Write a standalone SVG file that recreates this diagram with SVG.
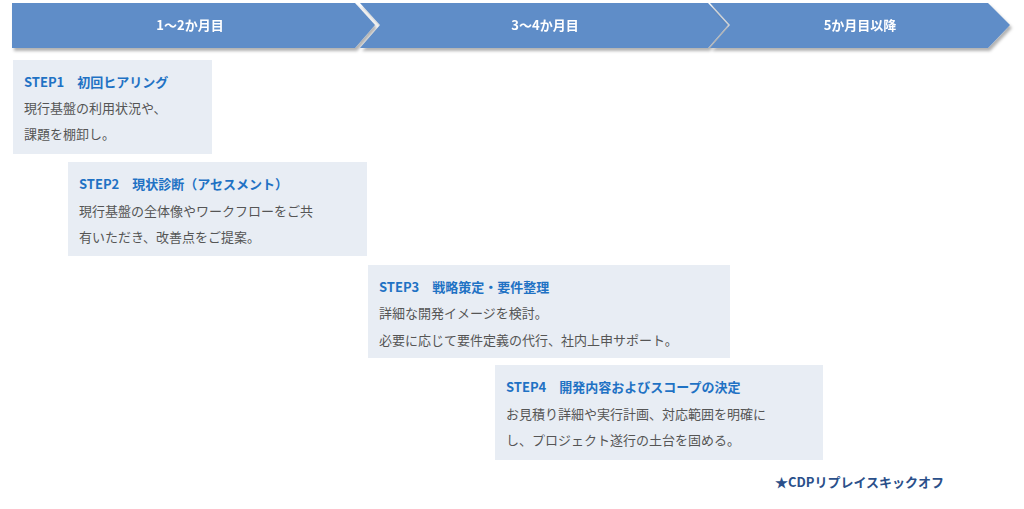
<svg xmlns="http://www.w3.org/2000/svg" width="1024" height="509" viewBox="0 0 1024 509">
<style>
.arr{fill:#5f8dc8}
.ah{fill:#fff;font:bold 13px "Noto Sans CJK JP",sans-serif;text-anchor:middle}
.box{fill:#e8edf4}
.t{fill:#1f72c4;font:bold 13px "Noto Sans CJK JP",sans-serif}
.b{fill:#555;font:13px "Noto Sans CJK JP",sans-serif}
.f{fill:#2a4f8a;font:bold 13px "Noto Sans CJK JP",sans-serif}
</style>
<defs><filter id="sh" x="-5%" y="-20%" width="110%" height="150%"><feDropShadow dx="2" dy="3" stdDeviation="1.5" flood-color="#000" flood-opacity="0.3"/></filter></defs>
<g id="phase1" filter="url(#sh)"><polygon class="arr" points="12,3 355,3 375,25 355,48 12,48"/><text class="ah" x="190" y="30">1〜2か月目</text></g>
<g id="phase2" filter="url(#sh)"><polygon class="arr" points="360,3 708,3 728,25 708,48 360,48 380,25"/><text class="ah" x="545" y="30">3〜4か月目</text></g>
<g id="phase3" filter="url(#sh)"><polygon class="arr" points="710,3 988,3 1010,25 988,48 710,48 730,25"/><text class="ah" x="860" y="30">5か月目以降</text></g>
<g id="step1"><rect class="box" x="13" y="60" width="199" height="94"/><text class="t" x="24" y="87">STEP1　初回ヒアリング</text><text class="b" x="24" y="113">現行基盤の利用状況や、</text><text class="b" x="24" y="139">課題を棚卸し。</text></g>
<g id="step2"><rect class="box" x="68" y="162" width="299" height="94"/><text class="t" x="79" y="189">STEP2　現状診断（アセスメント）</text><text class="b" x="79" y="216">現行基盤の全体像やワークフローをご共</text><text class="b" x="79" y="242">有いただき、改善点をご提案。</text></g>
<g id="step3"><rect class="box" x="368" y="265" width="362" height="93"/><text class="t" x="379" y="292">STEP3　戦略策定・要件整理</text><text class="b" x="379" y="318">詳細な開発イメージを検討。</text><text class="b" x="379" y="345">必要に応じて要件定義の代行、社内上申サポート。</text></g>
<g id="step4"><rect class="box" x="495" y="365" width="328" height="95"/><text class="t" x="506" y="392">STEP4　開発内容およびスコープの決定</text><text class="b" x="506" y="419">お見積り詳細や実行計画、対応範囲を明確に</text><text class="b" x="506" y="445">し、プロジェクト遂行の土台を固める。</text></g>
<g id="footer"><text class="f" x="775" y="487">★CDPリプレイスキックオフ</text></g>
<g id="connectors"/>
</svg>
